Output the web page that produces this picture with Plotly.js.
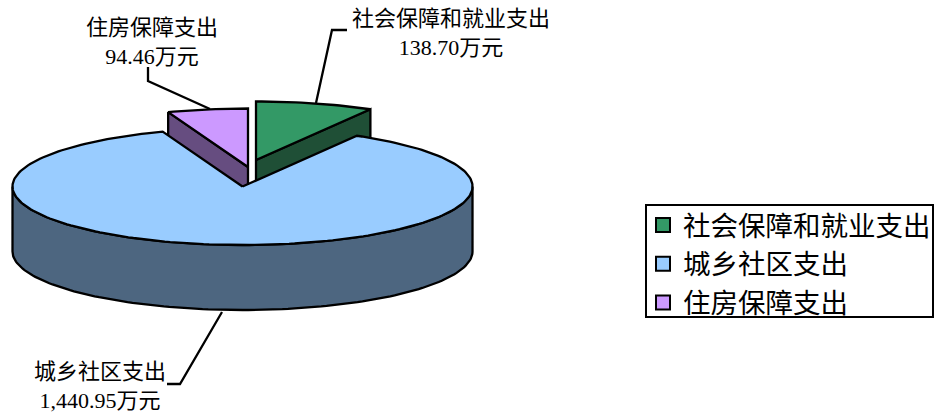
<!DOCTYPE html>
<html><head><meta charset="utf-8">
<script src="https://cdn.plot.ly/plotly-3.0.1.min.js"></script>
<style>html,body{margin:0;padding:0;background:#fff}</style></head>
<body><div id="chart" style="width:938px;height:416px"></div>
<script>
const categories = ["社会保障和就业支出", "城乡社区支出", "住房保障支出"];
const values = [138.70, 1440.95, 94.46];
const valueLabels = ["138.70万元", "1,440.95万元", "94.46万元"];
const topColors = ["#339966", "#99CCFF", "#CC99FF"];
const wallColors = ["#1F4F36", "#4D6680", "#664D80"];

// pie geometry in plot units
const cx = 242.5, cy = 186.5, rx = 230, ry = 58.5, depth = 65;
const explode = [[13.5, -26.5], [0, 0], [5.5, -19.5]];
const outline = {color: "#000", width: 2.3};
const total = values.reduce((a, b) => a + b, 0);
let acc = 0;
const sectors = values.map((v, i) => {
  const s = acc / total * 2 * Math.PI; acc += v;
  return {s, e: acc / total * 2 * Math.PI, ox: explode[i][0], oy: explode[i][1]};
});
const pt = (sec, t, dz = 0) => [cx + sec.ox + rx * Math.sin(t), cy + sec.oy - ry * Math.cos(t) + dz];
function arc(sec, a, b, dz = 0) {
  const n = Math.max(8, Math.ceil(Math.abs(b - a) * 40)), out = [];
  for (let k = 0; k <= n; k++) out.push(pt(sec, a + (b - a) * k / n, dz));
  return out;
}
const poly = (pts, fill) => ({
  type: "scatter", mode: "lines", x: pts.map(p => p[0]), y: pts.map(p => p[1]),
  fill: "toself", fillcolor: fill, line: outline, showlegend: false, hoverinfo: "skip"
});
const apex = (sec, dz = 0) => [cx + sec.ox, cy + sec.oy + dz];
const closed = a => a.concat([a[0]]);
const topFace = i => {
  const s = sectors[i];
  return poly(closed([apex(s)].concat(arc(s, s.s, s.e))), topColors[i]);
};
const cutWall = (i, t) => {
  const s = sectors[i], c = pt(s, t), d = pt(s, t, depth);
  return poly(closed([apex(s), c, d, apex(s, depth)]), wallColors[i]);
};
const blue = sectors[1];
const frontTop = arc(blue, Math.PI / 2, 3 * Math.PI / 2);
const frontBottom = arc(blue, 3 * Math.PI / 2, Math.PI / 2, depth);
const leaders = [
  [[316, 103], [332, 30], [347, 30]],
  [[222, 312], [180, 384], [167, 384]],
  [[210, 109], [148, 81], [148, 67]]
];
const traces = [
  cutWall(0, sectors[0].e),
  cutWall(2, sectors[2].s),
  poly(closed(frontTop.concat(frontBottom)), wallColors[1]),
  topFace(1), topFace(0), topFace(2)
];
leaders.forEach(l => traces.push({type: "scatter", mode: "lines", x: l.map(p => p[0]), y: l.map(p => p[1]),
  line: outline, showlegend: false, hoverinfo: "skip"}));
categories.forEach((c, i) => traces.push({type: "scatter", mode: "markers", x: [null], y: [null], name: c,
  marker: {symbol: "square", size: 14, color: topColors[i], line: {color: "#000", width: 2}}}));

const labelPos = [[451, 33], [100, 386], [152, 41.5]];
const font = "'Liberation Serif','Noto Sans CJK SC',serif";
const annotations = categories.map((c, i) => ({
  x: labelPos[i][0], y: labelPos[i][1], xref: "x", yref: "y", showarrow: false, align: "center",
  text: c + "<br>" + valueLabels[i], font: {family: font, size: 22, color: "#000"}
}));
const layout = {
  width: 938, height: 416, margin: {l: 0, r: 0, t: 0, b: 0},
  paper_bgcolor: "#fff", plot_bgcolor: "#fff", showlegend: true,
  font: {family: font},
  xaxis: {range: [0, 938], visible: false, fixedrange: true},
  yaxis: {range: [416, 0], visible: false, fixedrange: true},
  shapes: [{type: "rect", xref: "x", yref: "y", x0: 646, x1: 933, y0: 205, y1: 317,
    line: {color: "#000", width: 2}, fillcolor: "#fff", layer: "below"}],
  legend: {x: 643 / 938, y: 1 - 200.5 / 416, xanchor: "left", yanchor: "top", bgcolor: "rgba(0,0,0,0)",
    borderwidth: 0, traceorder: "normal", itemwidth: 30,
    font: {family: font, size: 27.5, color: "#000"}},
  annotations
};
Plotly.newPlot("chart", traces, layout, {displayModeBar: false, staticPlot: true});
</script></body></html>
